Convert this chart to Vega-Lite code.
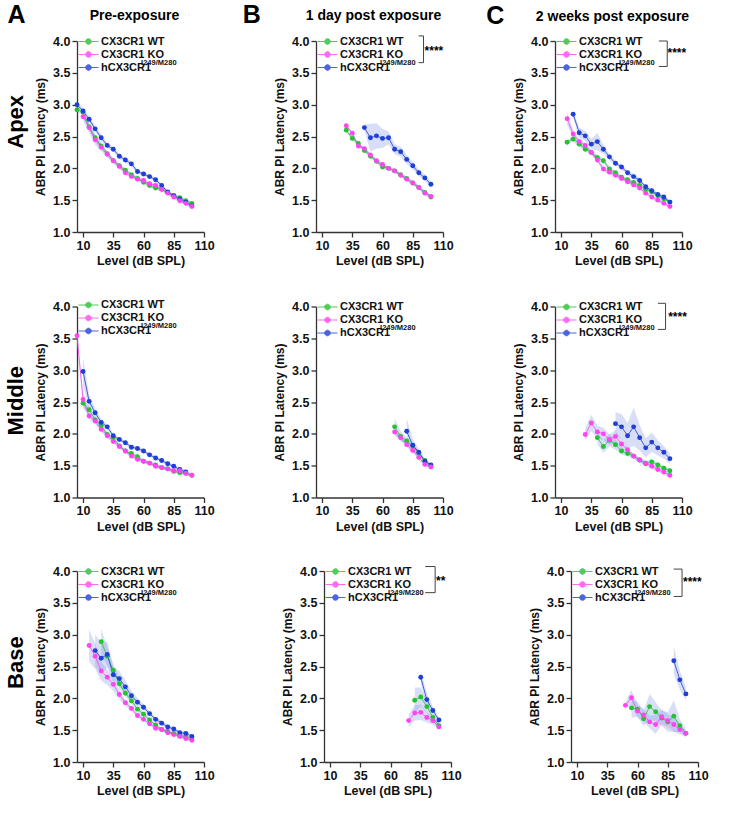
{
"$schema":"https://vega.github.io/schema/vega-lite/v6.json",
"padding":{"left":5,"top":2,"right":5,"bottom":5},
"datasets":{"d":[
{"p":"A1","g":"a","x":5,"y":2.92,"e":0.04},{"p":"A1","g":"a","x":10,"y":2.88,"e":0.04},{"p":"A1","g":"a","x":15,"y":2.65,"e":0.06},{"p":"A1","g":"a","x":20,"y":2.48,"e":0.06},{"p":"A1","g":"a","x":25,"y":2.35,"e":0.05},{"p":"A1","g":"a","x":30,"y":2.23,"e":0.04},{"p":"A1","g":"a","x":35,"y":2.12,"e":0.04},{"p":"A1","g":"a","x":40,"y":2.04,"e":0.04},{"p":"A1","g":"a","x":45,"y":1.97,"e":0.03},{"p":"A1","g":"a","x":50,"y":1.9,"e":0.03},{"p":"A1","g":"a","x":55,"y":1.84,"e":0.03},{"p":"A1","g":"a","x":60,"y":1.78,"e":0.03},{"p":"A1","g":"a","x":65,"y":1.73,"e":0.03},{"p":"A1","g":"a","x":70,"y":1.69,"e":0.03},{"p":"A1","g":"a","x":75,"y":1.67,"e":0.03},{"p":"A1","g":"a","x":80,"y":1.62,"e":0.03},{"p":"A1","g":"a","x":85,"y":1.57,"e":0.03},{"p":"A1","g":"a","x":90,"y":1.54,"e":0.03},{"p":"A1","g":"a","x":95,"y":1.49,"e":0.03},{"p":"A1","g":"a","x":100,"y":1.45,"e":0.03},
{"p":"A1","g":"c","x":5,"y":3.0,"e":0.04},{"p":"A1","g":"c","x":10,"y":2.9,"e":0.05},{"p":"A1","g":"c","x":15,"y":2.77,"e":0.05},{"p":"A1","g":"c","x":20,"y":2.62,"e":0.05},{"p":"A1","g":"c","x":25,"y":2.48,"e":0.05},{"p":"A1","g":"c","x":30,"y":2.36,"e":0.04},{"p":"A1","g":"c","x":35,"y":2.3,"e":0.04},{"p":"A1","g":"c","x":40,"y":2.19,"e":0.04},{"p":"A1","g":"c","x":45,"y":2.13,"e":0.04},{"p":"A1","g":"c","x":50,"y":2.07,"e":0.04},{"p":"A1","g":"c","x":55,"y":1.95,"e":0.03},{"p":"A1","g":"c","x":60,"y":1.91,"e":0.03},{"p":"A1","g":"c","x":65,"y":1.87,"e":0.03},{"p":"A1","g":"c","x":70,"y":1.82,"e":0.03},{"p":"A1","g":"c","x":75,"y":1.73,"e":0.03},{"p":"A1","g":"c","x":80,"y":1.63,"e":0.03},{"p":"A1","g":"c","x":85,"y":1.57,"e":0.03},{"p":"A1","g":"c","x":90,"y":1.52,"e":0.03},{"p":"A1","g":"c","x":95,"y":1.47,"e":0.03},{"p":"A1","g":"c","x":100,"y":1.41,"e":0.03},
{"p":"A1","g":"b","x":10,"y":2.81,"e":0.06},{"p":"A1","g":"b","x":15,"y":2.64,"e":0.08},{"p":"A1","g":"b","x":20,"y":2.45,"e":0.08},{"p":"A1","g":"b","x":25,"y":2.33,"e":0.06},{"p":"A1","g":"b","x":30,"y":2.22,"e":0.05},{"p":"A1","g":"b","x":35,"y":2.12,"e":0.04},{"p":"A1","g":"b","x":40,"y":2.03,"e":0.04},{"p":"A1","g":"b","x":45,"y":1.93,"e":0.03},{"p":"A1","g":"b","x":50,"y":1.87,"e":0.03},{"p":"A1","g":"b","x":55,"y":1.83,"e":0.03},{"p":"A1","g":"b","x":60,"y":1.81,"e":0.03},{"p":"A1","g":"b","x":65,"y":1.76,"e":0.03},{"p":"A1","g":"b","x":70,"y":1.73,"e":0.03},{"p":"A1","g":"b","x":75,"y":1.67,"e":0.03},{"p":"A1","g":"b","x":80,"y":1.61,"e":0.03},{"p":"A1","g":"b","x":85,"y":1.55,"e":0.03},{"p":"A1","g":"b","x":90,"y":1.49,"e":0.03},{"p":"A1","g":"b","x":95,"y":1.45,"e":0.03},{"p":"A1","g":"b","x":100,"y":1.4,"e":0.03},
{"p":"B1","g":"a","x":30,"y":2.6,"e":0.03},{"p":"B1","g":"a","x":35,"y":2.47,"e":0.03},{"p":"B1","g":"a","x":40,"y":2.39,"e":0.03},{"p":"B1","g":"a","x":45,"y":2.28,"e":0.03},{"p":"B1","g":"a","x":50,"y":2.19,"e":0.03},{"p":"B1","g":"a","x":55,"y":2.11,"e":0.03},{"p":"B1","g":"a","x":60,"y":2.02,"e":0.03},{"p":"B1","g":"a","x":65,"y":2.0,"e":0.03},{"p":"B1","g":"a","x":70,"y":1.96,"e":0.03},{"p":"B1","g":"a","x":75,"y":1.9,"e":0.03},{"p":"B1","g":"a","x":80,"y":1.84,"e":0.03},{"p":"B1","g":"a","x":85,"y":1.77,"e":0.03},{"p":"B1","g":"a","x":90,"y":1.7,"e":0.03},{"p":"B1","g":"a","x":95,"y":1.62,"e":0.03},{"p":"B1","g":"a","x":100,"y":1.55,"e":0.03},
{"p":"B1","g":"c","x":45,"y":2.64,"e":0.05},{"p":"B1","g":"c","x":50,"y":2.48,"e":0.22},{"p":"B1","g":"c","x":55,"y":2.51,"e":0.2},{"p":"B1","g":"c","x":60,"y":2.47,"e":0.15},{"p":"B1","g":"c","x":65,"y":2.48,"e":0.1},{"p":"B1","g":"c","x":70,"y":2.3,"e":0.08},{"p":"B1","g":"c","x":75,"y":2.26,"e":0.08},{"p":"B1","g":"c","x":80,"y":2.14,"e":0.07},{"p":"B1","g":"c","x":85,"y":2.04,"e":0.06},{"p":"B1","g":"c","x":90,"y":1.93,"e":0.05},{"p":"B1","g":"c","x":95,"y":1.85,"e":0.05},{"p":"B1","g":"c","x":100,"y":1.75,"e":0.05},
{"p":"B1","g":"b","x":30,"y":2.67,"e":0.03},{"p":"B1","g":"b","x":35,"y":2.55,"e":0.03},{"p":"B1","g":"b","x":40,"y":2.35,"e":0.03},{"p":"B1","g":"b","x":45,"y":2.31,"e":0.03},{"p":"B1","g":"b","x":50,"y":2.21,"e":0.03},{"p":"B1","g":"b","x":55,"y":2.12,"e":0.03},{"p":"B1","g":"b","x":60,"y":2.06,"e":0.03},{"p":"B1","g":"b","x":65,"y":2.0,"e":0.03},{"p":"B1","g":"b","x":70,"y":1.96,"e":0.03},{"p":"B1","g":"b","x":75,"y":1.89,"e":0.03},{"p":"B1","g":"b","x":80,"y":1.83,"e":0.03},{"p":"B1","g":"b","x":85,"y":1.77,"e":0.03},{"p":"B1","g":"b","x":90,"y":1.7,"e":0.03},{"p":"B1","g":"b","x":95,"y":1.61,"e":0.03},{"p":"B1","g":"b","x":100,"y":1.56,"e":0.03},
{"p":"C1","g":"a","x":15,"y":2.41,"e":0.04},{"p":"C1","g":"a","x":20,"y":2.46,"e":0.04},{"p":"C1","g":"a","x":25,"y":2.38,"e":0.04},{"p":"C1","g":"a","x":30,"y":2.3,"e":0.04},{"p":"C1","g":"a","x":35,"y":2.25,"e":0.04},{"p":"C1","g":"a","x":40,"y":2.17,"e":0.04},{"p":"C1","g":"a","x":45,"y":2.12,"e":0.04},{"p":"C1","g":"a","x":50,"y":1.99,"e":0.04},{"p":"C1","g":"a","x":55,"y":1.93,"e":0.03},{"p":"C1","g":"a","x":60,"y":1.86,"e":0.03},{"p":"C1","g":"a","x":65,"y":1.82,"e":0.03},{"p":"C1","g":"a","x":70,"y":1.78,"e":0.03},{"p":"C1","g":"a","x":75,"y":1.73,"e":0.03},{"p":"C1","g":"a","x":80,"y":1.67,"e":0.03},{"p":"C1","g":"a","x":85,"y":1.63,"e":0.03},{"p":"C1","g":"a","x":90,"y":1.57,"e":0.03},{"p":"C1","g":"a","x":95,"y":1.52,"e":0.03},{"p":"C1","g":"a","x":100,"y":1.47,"e":0.03},
{"p":"C1","g":"c","x":20,"y":2.85,"e":0.05},{"p":"C1","g":"c","x":25,"y":2.56,"e":0.08},{"p":"C1","g":"c","x":30,"y":2.51,"e":0.08},{"p":"C1","g":"c","x":35,"y":2.38,"e":0.08},{"p":"C1","g":"c","x":40,"y":2.42,"e":0.14},{"p":"C1","g":"c","x":45,"y":2.3,"e":0.07},{"p":"C1","g":"c","x":50,"y":2.18,"e":0.05},{"p":"C1","g":"c","x":55,"y":2.08,"e":0.04},{"p":"C1","g":"c","x":60,"y":2.02,"e":0.04},{"p":"C1","g":"c","x":65,"y":1.93,"e":0.04},{"p":"C1","g":"c","x":70,"y":1.87,"e":0.04},{"p":"C1","g":"c","x":75,"y":1.81,"e":0.04},{"p":"C1","g":"c","x":80,"y":1.71,"e":0.03},{"p":"C1","g":"c","x":85,"y":1.65,"e":0.03},{"p":"C1","g":"c","x":90,"y":1.59,"e":0.03},{"p":"C1","g":"c","x":95,"y":1.55,"e":0.03},{"p":"C1","g":"c","x":100,"y":1.47,"e":0.03},
{"p":"C1","g":"b","x":15,"y":2.78,"e":0.1},{"p":"C1","g":"b","x":20,"y":2.54,"e":0.06},{"p":"C1","g":"b","x":25,"y":2.42,"e":0.05},{"p":"C1","g":"b","x":30,"y":2.36,"e":0.04},{"p":"C1","g":"b","x":35,"y":2.25,"e":0.04},{"p":"C1","g":"b","x":40,"y":2.13,"e":0.04},{"p":"C1","g":"b","x":45,"y":1.99,"e":0.04},{"p":"C1","g":"b","x":50,"y":1.94,"e":0.04},{"p":"C1","g":"b","x":55,"y":1.89,"e":0.03},{"p":"C1","g":"b","x":60,"y":1.84,"e":0.03},{"p":"C1","g":"b","x":65,"y":1.79,"e":0.03},{"p":"C1","g":"b","x":70,"y":1.74,"e":0.03},{"p":"C1","g":"b","x":75,"y":1.69,"e":0.03},{"p":"C1","g":"b","x":80,"y":1.61,"e":0.03},{"p":"C1","g":"b","x":85,"y":1.55,"e":0.03},{"p":"C1","g":"b","x":90,"y":1.5,"e":0.03},{"p":"C1","g":"b","x":95,"y":1.45,"e":0.03},{"p":"C1","g":"b","x":100,"y":1.4,"e":0.03},
{"p":"A2","g":"a","x":10,"y":2.48,"e":0.08},{"p":"A2","g":"a","x":15,"y":2.38,"e":0.06},{"p":"A2","g":"a","x":20,"y":2.22,"e":0.05},{"p":"A2","g":"a","x":25,"y":2.13,"e":0.04},{"p":"A2","g":"a","x":30,"y":1.99,"e":0.04},{"p":"A2","g":"a","x":35,"y":1.94,"e":0.03},{"p":"A2","g":"a","x":40,"y":1.81,"e":0.03},{"p":"A2","g":"a","x":45,"y":1.73,"e":0.03},{"p":"A2","g":"a","x":50,"y":1.69,"e":0.03},{"p":"A2","g":"a","x":55,"y":1.64,"e":0.03},{"p":"A2","g":"a","x":60,"y":1.57,"e":0.03},{"p":"A2","g":"a","x":65,"y":1.54,"e":0.03},{"p":"A2","g":"a","x":70,"y":1.51,"e":0.03},{"p":"A2","g":"a","x":75,"y":1.47,"e":0.03},{"p":"A2","g":"a","x":80,"y":1.45,"e":0.03},{"p":"A2","g":"a","x":85,"y":1.41,"e":0.03},{"p":"A2","g":"a","x":90,"y":1.39,"e":0.03},{"p":"A2","g":"a","x":95,"y":1.38,"e":0.03},{"p":"A2","g":"a","x":100,"y":1.35,"e":0.03},
{"p":"A2","g":"c","x":10,"y":2.98,"e":0.22},{"p":"A2","g":"c","x":15,"y":2.51,"e":0.1},{"p":"A2","g":"c","x":20,"y":2.33,"e":0.07},{"p":"A2","g":"c","x":25,"y":2.18,"e":0.06},{"p":"A2","g":"c","x":30,"y":2.11,"e":0.04},{"p":"A2","g":"c","x":35,"y":1.97,"e":0.03},{"p":"A2","g":"c","x":40,"y":1.91,"e":0.03},{"p":"A2","g":"c","x":45,"y":1.86,"e":0.03},{"p":"A2","g":"c","x":50,"y":1.79,"e":0.03},{"p":"A2","g":"c","x":55,"y":1.77,"e":0.03},{"p":"A2","g":"c","x":60,"y":1.73,"e":0.03},{"p":"A2","g":"c","x":65,"y":1.67,"e":0.03},{"p":"A2","g":"c","x":70,"y":1.62,"e":0.03},{"p":"A2","g":"c","x":75,"y":1.58,"e":0.03},{"p":"A2","g":"c","x":80,"y":1.53,"e":0.03},{"p":"A2","g":"c","x":85,"y":1.49,"e":0.03},{"p":"A2","g":"c","x":90,"y":1.44,"e":0.03},{"p":"A2","g":"c","x":95,"y":1.4,"e":0.03},
{"p":"A2","g":"b","x":5,"y":3.54,"e":0.05},{"p":"A2","g":"b","x":10,"y":2.54,"e":0.1},{"p":"A2","g":"b","x":15,"y":2.28,"e":0.06},{"p":"A2","g":"b","x":20,"y":2.2,"e":0.05},{"p":"A2","g":"b","x":25,"y":2.07,"e":0.04},{"p":"A2","g":"b","x":30,"y":1.97,"e":0.04},{"p":"A2","g":"b","x":35,"y":1.88,"e":0.03},{"p":"A2","g":"b","x":40,"y":1.8,"e":0.03},{"p":"A2","g":"b","x":45,"y":1.73,"e":0.03},{"p":"A2","g":"b","x":50,"y":1.65,"e":0.03},{"p":"A2","g":"b","x":55,"y":1.6,"e":0.03},{"p":"A2","g":"b","x":60,"y":1.57,"e":0.03},{"p":"A2","g":"b","x":65,"y":1.54,"e":0.03},{"p":"A2","g":"b","x":70,"y":1.49,"e":0.03},{"p":"A2","g":"b","x":75,"y":1.47,"e":0.03},{"p":"A2","g":"b","x":80,"y":1.45,"e":0.03},{"p":"A2","g":"b","x":85,"y":1.42,"e":0.03},{"p":"A2","g":"b","x":90,"y":1.42,"e":0.03},{"p":"A2","g":"b","x":95,"y":1.38,"e":0.03},{"p":"A2","g":"b","x":100,"y":1.35,"e":0.03},
{"p":"B2","g":"a","x":70,"y":2.11,"e":0.13},{"p":"B2","g":"a","x":75,"y":1.96,"e":0.08},{"p":"B2","g":"a","x":80,"y":1.89,"e":0.05},{"p":"B2","g":"a","x":85,"y":1.81,"e":0.04},{"p":"B2","g":"a","x":90,"y":1.7,"e":0.04},{"p":"B2","g":"a","x":95,"y":1.58,"e":0.03},{"p":"B2","g":"a","x":100,"y":1.5,"e":0.03},
{"p":"B2","g":"c","x":80,"y":2.04,"e":0.2},{"p":"B2","g":"c","x":85,"y":1.82,"e":0.1},{"p":"B2","g":"c","x":90,"y":1.71,"e":0.05},{"p":"B2","g":"c","x":95,"y":1.57,"e":0.04},{"p":"B2","g":"c","x":100,"y":1.51,"e":0.03},
{"p":"B2","g":"b","x":70,"y":2.03,"e":0.04},{"p":"B2","g":"b","x":75,"y":1.94,"e":0.04},{"p":"B2","g":"b","x":80,"y":1.83,"e":0.04},{"p":"B2","g":"b","x":85,"y":1.74,"e":0.04},{"p":"B2","g":"b","x":90,"y":1.63,"e":0.04},{"p":"B2","g":"b","x":95,"y":1.52,"e":0.03},{"p":"B2","g":"b","x":100,"y":1.48,"e":0.03},
{"p":"C2","g":"a","x":40,"y":1.94,"e":0.1},{"p":"C2","g":"a","x":45,"y":1.8,"e":0.1},{"p":"C2","g":"a","x":50,"y":1.9,"e":0.1},{"p":"C2","g":"a","x":55,"y":1.83,"e":0.08},{"p":"C2","g":"a","x":60,"y":1.73,"e":0.06},{"p":"C2","g":"a","x":65,"y":1.69,"e":0.04},{"p":"C2","g":"a","x":70,"y":1.65,"e":0.04},{"p":"C2","g":"a","x":75,"y":1.59,"e":0.04},{"p":"C2","g":"a","x":80,"y":1.53,"e":0.04},{"p":"C2","g":"a","x":85,"y":1.56,"e":0.04},{"p":"C2","g":"a","x":90,"y":1.51,"e":0.04},{"p":"C2","g":"a","x":95,"y":1.46,"e":0.04},{"p":"C2","g":"a","x":100,"y":1.42,"e":0.04},
{"p":"C2","g":"c","x":55,"y":2.16,"e":0.18},{"p":"C2","g":"c","x":60,"y":2.11,"e":0.2},{"p":"C2","g":"c","x":65,"y":1.97,"e":0.2},{"p":"C2","g":"c","x":70,"y":2.11,"e":0.3},{"p":"C2","g":"c","x":75,"y":1.94,"e":0.2},{"p":"C2","g":"c","x":80,"y":1.78,"e":0.15},{"p":"C2","g":"c","x":85,"y":1.87,"e":0.15},{"p":"C2","g":"c","x":90,"y":1.78,"e":0.12},{"p":"C2","g":"c","x":95,"y":1.71,"e":0.1},{"p":"C2","g":"c","x":100,"y":1.61,"e":0.08},
{"p":"C2","g":"b","x":30,"y":1.99,"e":0.1},{"p":"C2","g":"b","x":35,"y":2.17,"e":0.13},{"p":"C2","g":"b","x":40,"y":2.03,"e":0.1},{"p":"C2","g":"b","x":45,"y":2.0,"e":0.1},{"p":"C2","g":"b","x":50,"y":1.91,"e":0.08},{"p":"C2","g":"b","x":55,"y":1.96,"e":0.1},{"p":"C2","g":"b","x":60,"y":1.84,"e":0.07},{"p":"C2","g":"b","x":65,"y":1.75,"e":0.04},{"p":"C2","g":"b","x":70,"y":1.65,"e":0.04},{"p":"C2","g":"b","x":75,"y":1.59,"e":0.04},{"p":"C2","g":"b","x":80,"y":1.54,"e":0.04},{"p":"C2","g":"b","x":85,"y":1.49,"e":0.04},{"p":"C2","g":"b","x":90,"y":1.44,"e":0.04},{"p":"C2","g":"b","x":95,"y":1.4,"e":0.04},{"p":"C2","g":"b","x":100,"y":1.35,"e":0.04},
{"p":"A3","g":"a","x":25,"y":2.89,"e":0.2},{"p":"A3","g":"a","x":30,"y":2.66,"e":0.15},{"p":"A3","g":"a","x":35,"y":2.44,"e":0.1},{"p":"A3","g":"a","x":40,"y":2.23,"e":0.08},{"p":"A3","g":"a","x":45,"y":2.08,"e":0.05},{"p":"A3","g":"a","x":50,"y":1.96,"e":0.04},{"p":"A3","g":"a","x":55,"y":1.83,"e":0.04},{"p":"A3","g":"a","x":60,"y":1.75,"e":0.04},{"p":"A3","g":"a","x":65,"y":1.66,"e":0.04},{"p":"A3","g":"a","x":70,"y":1.58,"e":0.03},{"p":"A3","g":"a","x":75,"y":1.51,"e":0.03},{"p":"A3","g":"a","x":80,"y":1.48,"e":0.03},{"p":"A3","g":"a","x":85,"y":1.45,"e":0.03},{"p":"A3","g":"a","x":90,"y":1.42,"e":0.03},{"p":"A3","g":"a","x":95,"y":1.4,"e":0.03},{"p":"A3","g":"a","x":100,"y":1.36,"e":0.03},
{"p":"A3","g":"c","x":20,"y":2.75,"e":0.25},{"p":"A3","g":"c","x":25,"y":2.63,"e":0.25},{"p":"A3","g":"c","x":30,"y":2.69,"e":0.2},{"p":"A3","g":"c","x":35,"y":2.37,"e":0.12},{"p":"A3","g":"c","x":40,"y":2.31,"e":0.12},{"p":"A3","g":"c","x":45,"y":2.18,"e":0.1},{"p":"A3","g":"c","x":50,"y":2.04,"e":0.08},{"p":"A3","g":"c","x":55,"y":1.94,"e":0.06},{"p":"A3","g":"c","x":60,"y":1.86,"e":0.05},{"p":"A3","g":"c","x":65,"y":1.76,"e":0.04},{"p":"A3","g":"c","x":70,"y":1.67,"e":0.04},{"p":"A3","g":"c","x":75,"y":1.61,"e":0.04},{"p":"A3","g":"c","x":80,"y":1.55,"e":0.03},{"p":"A3","g":"c","x":85,"y":1.52,"e":0.03},{"p":"A3","g":"c","x":90,"y":1.46,"e":0.03},{"p":"A3","g":"c","x":95,"y":1.45,"e":0.03},{"p":"A3","g":"c","x":100,"y":1.4,"e":0.03},
{"p":"A3","g":"b","x":15,"y":2.83,"e":0.25},{"p":"A3","g":"b","x":20,"y":2.66,"e":0.2},{"p":"A3","g":"b","x":25,"y":2.43,"e":0.15},{"p":"A3","g":"b","x":30,"y":2.33,"e":0.12},{"p":"A3","g":"b","x":35,"y":2.22,"e":0.1},{"p":"A3","g":"b","x":40,"y":2.06,"e":0.08},{"p":"A3","g":"b","x":45,"y":1.93,"e":0.05},{"p":"A3","g":"b","x":50,"y":1.84,"e":0.04},{"p":"A3","g":"b","x":55,"y":1.73,"e":0.04},{"p":"A3","g":"b","x":60,"y":1.67,"e":0.03},{"p":"A3","g":"b","x":65,"y":1.6,"e":0.03},{"p":"A3","g":"b","x":70,"y":1.53,"e":0.03},{"p":"A3","g":"b","x":75,"y":1.51,"e":0.03},{"p":"A3","g":"b","x":80,"y":1.46,"e":0.03},{"p":"A3","g":"b","x":85,"y":1.43,"e":0.03},{"p":"A3","g":"b","x":90,"y":1.4,"e":0.03},{"p":"A3","g":"b","x":95,"y":1.37,"e":0.03},{"p":"A3","g":"b","x":100,"y":1.34,"e":0.03},
{"p":"B3","g":"a","x":80,"y":1.97,"e":0.2},{"p":"B3","g":"a","x":85,"y":2.02,"e":0.15},{"p":"B3","g":"a","x":90,"y":1.87,"e":0.1},{"p":"B3","g":"a","x":95,"y":1.7,"e":0.06},{"p":"B3","g":"a","x":100,"y":1.57,"e":0.04},
{"p":"B3","g":"c","x":85,"y":2.33,"e":0.1},{"p":"B3","g":"c","x":90,"y":1.98,"e":0.1},{"p":"B3","g":"c","x":95,"y":1.81,"e":0.06},{"p":"B3","g":"c","x":100,"y":1.66,"e":0.04},
{"p":"B3","g":"b","x":75,"y":1.65,"e":0.1},{"p":"B3","g":"b","x":80,"y":1.77,"e":0.12},{"p":"B3","g":"b","x":85,"y":1.78,"e":0.12},{"p":"B3","g":"b","x":90,"y":1.7,"e":0.08},{"p":"B3","g":"b","x":95,"y":1.65,"e":0.06},{"p":"B3","g":"b","x":100,"y":1.55,"e":0.04},
{"p":"C3","g":"a","x":55,"y":1.85,"e":0.15},{"p":"C3","g":"a","x":60,"y":1.83,"e":0.12},{"p":"C3","g":"a","x":65,"y":1.68,"e":0.12},{"p":"C3","g":"a","x":70,"y":1.87,"e":0.2},{"p":"C3","g":"a","x":75,"y":1.79,"e":0.15},{"p":"C3","g":"a","x":80,"y":1.69,"e":0.12},{"p":"C3","g":"a","x":85,"y":1.63,"e":0.15},{"p":"C3","g":"a","x":90,"y":1.72,"e":0.25},{"p":"C3","g":"a","x":95,"y":1.57,"e":0.1},{"p":"C3","g":"a","x":100,"y":1.45,"e":0.06},
{"p":"C3","g":"c","x":90,"y":2.59,"e":0.22},{"p":"C3","g":"c","x":95,"y":2.29,"e":0.15},{"p":"C3","g":"c","x":100,"y":2.07,"e":0.1},
{"p":"C3","g":"b","x":50,"y":1.89,"e":0.05},{"p":"C3","g":"b","x":55,"y":2.01,"e":0.12},{"p":"C3","g":"b","x":60,"y":1.8,"e":0.1},{"p":"C3","g":"b","x":65,"y":1.74,"e":0.1},{"p":"C3","g":"b","x":70,"y":1.63,"e":0.1},{"p":"C3","g":"b","x":75,"y":1.59,"e":0.15},{"p":"C3","g":"b","x":80,"y":1.71,"e":0.12},{"p":"C3","g":"b","x":85,"y":1.65,"e":0.1},{"p":"C3","g":"b","x":90,"y":1.59,"e":0.12},{"p":"C3","g":"b","x":95,"y":1.51,"e":0.08},{"p":"C3","g":"b","x":100,"y":1.45,"e":0.05}
]},
"spacing":32.5,
"resolve":{"scale":{"color":"independent","x":"independent","y":"independent"}},
"vconcat":[
{"bounds":"flush","spacing":112,"resolve":{"scale":{"color":"independent","x":"independent","y":"independent"}},
"hconcat":[
{"width":127,"height":191,
"title":{"text":"Pre-exposure","fontSize":14,"fontWeight":"bold","anchor":"middle","frame":"group","offset":-20,"dx":-6},
"layer":[
{"data":{"name":"d"},"transform":[{"filter":{"field":"p","equal":"A1"}}],"mark":{"type":"errorband","band":{"color":"#7f93e0","opacity":0.3}},"encoding":{"x":{"field":"x","type":"quantitative","scale":{"domain":[5,110],"nice":false,"zero":false},"axis":{"values":[10,35,60,85,110],"title":"Level (dB SPL)","labelOverlap":false}},"y":{"field":"y","type":"quantitative","scale":{"domain":[1,4],"nice":false,"zero":false},"axis":{"values":[1,1.5,2,2.5,3,3.5,4],"format":".1f","title":"ABR PI Latency (ms)","labelOverlap":false}},"yError":{"field":"e"},"detail":{"field":"g"}}},
{"data":{"name":"d"},"transform":[{"filter":{"field":"p","equal":"A1"}}],"mark":{"type":"line","strokeWidth":1,"opacity":0.8},"encoding":{"x":{"field":"x","type":"quantitative","axis":{"values":[10,35,60,85,110],"title":"Level (dB SPL)","labelOverlap":false}},"y":{"field":"y","type":"quantitative","axis":{"values":[1,1.5,2,2.5,3,3.5,4],"format":".1f","title":"ABR PI Latency (ms)","labelOverlap":false}},"color":{"field":"g","type":"nominal"}}},
{"data":{"name":"d"},"transform":[{"filter":{"field":"p","equal":"A1"}}],"mark":{"type":"point","filled":true,"size":24,"opacity":1},"encoding":{"x":{"field":"x","type":"quantitative","axis":{"values":[10,35,60,85,110],"title":"Level (dB SPL)","labelOverlap":false}},"y":{"field":"y","type":"quantitative","axis":{"values":[1,1.5,2,2.5,3,3.5,4],"format":".1f","title":"ABR PI Latency (ms)","labelOverlap":false}},"color":{"field":"g","type":"nominal","legend":{"title":null,"orient":"none","legendX":6,"legendY":-5,"labelFontSize":11,"labelExpr":"datum.label == 'a' ? 'CX3CR1 WT' : datum.label == 'b' ? 'CX3CR1 KO' : 'hCX3CR1'"}}}},
{"data":{"values":[{"t":"I249/M280"}]},"mark":{"type":"text","fontSize":7.5,"fontWeight":"bold","align":"left","baseline":"middle","color":"#111"},"encoding":{"x":{"datum":58,"type":"quantitative","axis":{"values":[10,35,60,85,110],"title":"Level (dB SPL)","labelOverlap":false}},"y":{"datum":3.66,"type":"quantitative","axis":{"values":[1,1.5,2,2.5,3,3.5,4],"format":".1f","title":"ABR PI Latency (ms)","labelOverlap":false}},"text":{"field":"t"}}},
{"data":{"values":[{"t":"A"}]},"mark":{"type":"text","fontSize":25,"fontWeight":"bold","align":"center","baseline":"middle"},"encoding":{"x":{"datum":-45,"type":"quantitative","axis":{"values":[10,35,60,85,110],"title":"Level (dB SPL)","labelOverlap":false}},"y":{"datum":4.41,"type":"quantitative","axis":{"values":[1,1.5,2,2.5,3,3.5,4],"format":".1f","title":"ABR PI Latency (ms)","labelOverlap":false}},"text":{"field":"t"}}},
{"data":{"values":[{"t":"Apex"}]},"mark":{"type":"text","angle":270,"fontSize":22,"fontWeight":"bold","align":"center","baseline":"middle"},"encoding":{"x":{"datum":-45.4,"type":"quantitative","axis":{"values":[10,35,60,85,110],"title":"Level (dB SPL)","labelOverlap":false}},"y":{"datum":2.73,"type":"quantitative","axis":{"values":[1,1.5,2,2.5,3,3.5,4],"format":".1f","title":"ABR PI Latency (ms)","labelOverlap":false}},"text":{"field":"t"}}}
]},
{"width":127,"height":191,
"title":{"text":"1 day post exposure","fontSize":14,"fontWeight":"bold","anchor":"middle","frame":"group","offset":-20,"dx":-6},
"layer":[
{"data":{"name":"d"},"transform":[{"filter":{"field":"p","equal":"B1"}}],"mark":{"type":"errorband","band":{"color":"#7f93e0","opacity":0.3}},"encoding":{"x":{"field":"x","type":"quantitative","scale":{"domain":[5,110],"nice":false,"zero":false},"axis":{"values":[10,35,60,85,110],"title":"Level (dB SPL)","labelOverlap":false}},"y":{"field":"y","type":"quantitative","scale":{"domain":[1,4],"nice":false,"zero":false},"axis":{"values":[1,1.5,2,2.5,3,3.5,4],"format":".1f","title":"ABR PI Latency (ms)","labelOverlap":false}},"yError":{"field":"e"},"detail":{"field":"g"}}},
{"data":{"name":"d"},"transform":[{"filter":{"field":"p","equal":"B1"}}],"mark":{"type":"line","strokeWidth":1,"opacity":0.8},"encoding":{"x":{"field":"x","type":"quantitative","axis":{"values":[10,35,60,85,110],"title":"Level (dB SPL)","labelOverlap":false}},"y":{"field":"y","type":"quantitative","axis":{"values":[1,1.5,2,2.5,3,3.5,4],"format":".1f","title":"ABR PI Latency (ms)","labelOverlap":false}},"color":{"field":"g","type":"nominal"}}},
{"data":{"name":"d"},"transform":[{"filter":{"field":"p","equal":"B1"}}],"mark":{"type":"point","filled":true,"size":24,"opacity":1},"encoding":{"x":{"field":"x","type":"quantitative","axis":{"values":[10,35,60,85,110],"title":"Level (dB SPL)","labelOverlap":false}},"y":{"field":"y","type":"quantitative","axis":{"values":[1,1.5,2,2.5,3,3.5,4],"format":".1f","title":"ABR PI Latency (ms)","labelOverlap":false}},"color":{"field":"g","type":"nominal","legend":{"title":null,"orient":"none","legendX":6,"legendY":-5,"labelFontSize":11,"labelExpr":"datum.label == 'a' ? 'CX3CR1 WT' : datum.label == 'b' ? 'CX3CR1 KO' : 'hCX3CR1'"}}}},
{"data":{"values":[{"t":"I249/M280"}]},"mark":{"type":"text","fontSize":7.5,"fontWeight":"bold","align":"left","baseline":"middle","color":"#111"},"encoding":{"x":{"datum":58,"type":"quantitative","axis":{"values":[10,35,60,85,110],"title":"Level (dB SPL)","labelOverlap":false}},"y":{"datum":3.66,"type":"quantitative","axis":{"values":[1,1.5,2,2.5,3,3.5,4],"format":".1f","title":"ABR PI Latency (ms)","labelOverlap":false}},"text":{"field":"t"}}},
{"data":{"values":[{"t":"B"}]},"mark":{"type":"text","fontSize":25,"fontWeight":"bold","align":"center","baseline":"middle"},"encoding":{"x":{"datum":-48,"type":"quantitative","axis":{"values":[10,35,60,85,110],"title":"Level (dB SPL)","labelOverlap":false}},"y":{"datum":4.41,"type":"quantitative","axis":{"values":[1,1.5,2,2.5,3,3.5,4],"format":".1f","title":"ABR PI Latency (ms)","labelOverlap":false}},"text":{"field":"t"}}},
{"data":{"values":[{}]},"mark":{"type":"rule","color":"#444","strokeWidth":1},"encoding":{"x":{"datum":89.8,"type":"quantitative","axis":{"values":[10,35,60,85,110],"title":"Level (dB SPL)","labelOverlap":false}},"x2":{"datum":93.9},"y":{"datum":4.08,"type":"quantitative","axis":{"values":[1,1.5,2,2.5,3,3.5,4],"format":".1f","title":"ABR PI Latency (ms)","labelOverlap":false}}}},
{"data":{"values":[{}]},"mark":{"type":"rule","color":"#444","strokeWidth":1},"encoding":{"x":{"datum":93.9,"type":"quantitative","axis":{"values":[10,35,60,85,110],"title":"Level (dB SPL)","labelOverlap":false}},"y":{"datum":4.08,"type":"quantitative","axis":{"values":[1,1.5,2,2.5,3,3.5,4],"format":".1f","title":"ABR PI Latency (ms)","labelOverlap":false}},"y2":{"datum":3.66}}},
{"data":{"values":[{}]},"mark":{"type":"rule","color":"#444","strokeWidth":1},"encoding":{"x":{"datum":89.8,"type":"quantitative","axis":{"values":[10,35,60,85,110],"title":"Level (dB SPL)","labelOverlap":false}},"x2":{"datum":93.9},"y":{"datum":3.66,"type":"quantitative","axis":{"values":[1,1.5,2,2.5,3,3.5,4],"format":".1f","title":"ABR PI Latency (ms)","labelOverlap":false}}}},
{"data":{"values":[{"t":"****"}]},"mark":{"type":"text","fontSize":12,"fontWeight":"bold","align":"center","baseline":"middle"},"encoding":{"x":{"datum":102.5,"type":"quantitative","axis":{"values":[10,35,60,85,110],"title":"Level (dB SPL)","labelOverlap":false}},"y":{"datum":3.84,"type":"quantitative","axis":{"values":[1,1.5,2,2.5,3,3.5,4],"format":".1f","title":"ABR PI Latency (ms)","labelOverlap":false}},"text":{"field":"t"}}}
]},
{"width":127,"height":191,
"title":{"text":"2 weeks post exposure","fontSize":14,"fontWeight":"bold","anchor":"middle","frame":"group","offset":-20,"dx":-6},
"layer":[
{"data":{"name":"d"},"transform":[{"filter":{"field":"p","equal":"C1"}}],"mark":{"type":"errorband","band":{"color":"#7f93e0","opacity":0.3}},"encoding":{"x":{"field":"x","type":"quantitative","scale":{"domain":[5,110],"nice":false,"zero":false},"axis":{"values":[10,35,60,85,110],"title":"Level (dB SPL)","labelOverlap":false}},"y":{"field":"y","type":"quantitative","scale":{"domain":[1,4],"nice":false,"zero":false},"axis":{"values":[1,1.5,2,2.5,3,3.5,4],"format":".1f","title":"ABR PI Latency (ms)","labelOverlap":false}},"yError":{"field":"e"},"detail":{"field":"g"}}},
{"data":{"name":"d"},"transform":[{"filter":{"field":"p","equal":"C1"}}],"mark":{"type":"line","strokeWidth":1,"opacity":0.8},"encoding":{"x":{"field":"x","type":"quantitative","axis":{"values":[10,35,60,85,110],"title":"Level (dB SPL)","labelOverlap":false}},"y":{"field":"y","type":"quantitative","axis":{"values":[1,1.5,2,2.5,3,3.5,4],"format":".1f","title":"ABR PI Latency (ms)","labelOverlap":false}},"color":{"field":"g","type":"nominal"}}},
{"data":{"name":"d"},"transform":[{"filter":{"field":"p","equal":"C1"}}],"mark":{"type":"point","filled":true,"size":24,"opacity":1},"encoding":{"x":{"field":"x","type":"quantitative","axis":{"values":[10,35,60,85,110],"title":"Level (dB SPL)","labelOverlap":false}},"y":{"field":"y","type":"quantitative","axis":{"values":[1,1.5,2,2.5,3,3.5,4],"format":".1f","title":"ABR PI Latency (ms)","labelOverlap":false}},"color":{"field":"g","type":"nominal","legend":{"title":null,"orient":"none","legendX":6,"legendY":-5,"labelFontSize":11,"labelExpr":"datum.label == 'a' ? 'CX3CR1 WT' : datum.label == 'b' ? 'CX3CR1 KO' : 'hCX3CR1'"}}}},
{"data":{"values":[{"t":"I249/M280"}]},"mark":{"type":"text","fontSize":7.5,"fontWeight":"bold","align":"left","baseline":"middle","color":"#111"},"encoding":{"x":{"datum":58,"type":"quantitative","axis":{"values":[10,35,60,85,110],"title":"Level (dB SPL)","labelOverlap":false}},"y":{"datum":3.66,"type":"quantitative","axis":{"values":[1,1.5,2,2.5,3,3.5,4],"format":".1f","title":"ABR PI Latency (ms)","labelOverlap":false}},"text":{"field":"t"}}},
{"data":{"values":[{"t":"C"}]},"mark":{"type":"text","fontSize":25,"fontWeight":"bold","align":"center","baseline":"middle"},"encoding":{"x":{"datum":-44.3,"type":"quantitative","axis":{"values":[10,35,60,85,110],"title":"Level (dB SPL)","labelOverlap":false}},"y":{"datum":4.4,"type":"quantitative","axis":{"values":[1,1.5,2,2.5,3,3.5,4],"format":".1f","title":"ABR PI Latency (ms)","labelOverlap":false}},"text":{"field":"t"}}},
{"data":{"values":[{}]},"mark":{"type":"rule","color":"#444","strokeWidth":1},"encoding":{"x":{"datum":90.9,"type":"quantitative","axis":{"values":[10,35,60,85,110],"title":"Level (dB SPL)","labelOverlap":false}},"x2":{"datum":97.8},"y":{"datum":4.0,"type":"quantitative","axis":{"values":[1,1.5,2,2.5,3,3.5,4],"format":".1f","title":"ABR PI Latency (ms)","labelOverlap":false}}}},
{"data":{"values":[{}]},"mark":{"type":"rule","color":"#444","strokeWidth":1},"encoding":{"x":{"datum":97.8,"type":"quantitative","axis":{"values":[10,35,60,85,110],"title":"Level (dB SPL)","labelOverlap":false}},"y":{"datum":4.0,"type":"quantitative","axis":{"values":[1,1.5,2,2.5,3,3.5,4],"format":".1f","title":"ABR PI Latency (ms)","labelOverlap":false}},"y2":{"datum":3.6}}},
{"data":{"values":[{}]},"mark":{"type":"rule","color":"#444","strokeWidth":1},"encoding":{"x":{"datum":90.9,"type":"quantitative","axis":{"values":[10,35,60,85,110],"title":"Level (dB SPL)","labelOverlap":false}},"x2":{"datum":97.8},"y":{"datum":3.6,"type":"quantitative","axis":{"values":[1,1.5,2,2.5,3,3.5,4],"format":".1f","title":"ABR PI Latency (ms)","labelOverlap":false}}}},
{"data":{"values":[{"t":"****"}]},"mark":{"type":"text","fontSize":12,"fontWeight":"bold","align":"center","baseline":"middle"},"encoding":{"x":{"datum":105.7,"type":"quantitative","axis":{"values":[10,35,60,85,110],"title":"Level (dB SPL)","labelOverlap":false}},"y":{"datum":3.81,"type":"quantitative","axis":{"values":[1,1.5,2,2.5,3,3.5,4],"format":".1f","title":"ABR PI Latency (ms)","labelOverlap":false}},"text":{"field":"t"}}}
]}
]},
{"bounds":"flush","spacing":112,"resolve":{"scale":{"color":"independent","x":"independent","y":"independent"}},
"hconcat":[
{"width":127,"height":191,
"layer":[
{"data":{"name":"d"},"transform":[{"filter":{"field":"p","equal":"A2"}}],"mark":{"type":"errorband","band":{"color":"#7f93e0","opacity":0.3}},"encoding":{"x":{"field":"x","type":"quantitative","scale":{"domain":[5,110],"nice":false,"zero":false},"axis":{"values":[10,35,60,85,110],"title":"Level (dB SPL)","labelOverlap":false}},"y":{"field":"y","type":"quantitative","scale":{"domain":[1,4],"nice":false,"zero":false},"axis":{"values":[1,1.5,2,2.5,3,3.5,4],"format":".1f","title":"ABR PI Latency (ms)","labelOverlap":false}},"yError":{"field":"e"},"detail":{"field":"g"}}},
{"data":{"name":"d"},"transform":[{"filter":{"field":"p","equal":"A2"}}],"mark":{"type":"line","strokeWidth":1,"opacity":0.8},"encoding":{"x":{"field":"x","type":"quantitative","axis":{"values":[10,35,60,85,110],"title":"Level (dB SPL)","labelOverlap":false}},"y":{"field":"y","type":"quantitative","axis":{"values":[1,1.5,2,2.5,3,3.5,4],"format":".1f","title":"ABR PI Latency (ms)","labelOverlap":false}},"color":{"field":"g","type":"nominal"}}},
{"data":{"name":"d"},"transform":[{"filter":{"field":"p","equal":"A2"}}],"mark":{"type":"point","filled":true,"size":24,"opacity":1},"encoding":{"x":{"field":"x","type":"quantitative","axis":{"values":[10,35,60,85,110],"title":"Level (dB SPL)","labelOverlap":false}},"y":{"field":"y","type":"quantitative","axis":{"values":[1,1.5,2,2.5,3,3.5,4],"format":".1f","title":"ABR PI Latency (ms)","labelOverlap":false}},"color":{"field":"g","type":"nominal","legend":{"title":null,"orient":"none","legendX":6,"legendY":-7,"labelFontSize":11,"labelExpr":"datum.label == 'a' ? 'CX3CR1 WT' : datum.label == 'b' ? 'CX3CR1 KO' : 'hCX3CR1'"}}}},
{"data":{"values":[{"t":"I249/M280"}]},"mark":{"type":"text","fontSize":7.5,"fontWeight":"bold","align":"left","baseline":"middle","color":"#111"},"encoding":{"x":{"datum":58,"type":"quantitative","axis":{"values":[10,35,60,85,110],"title":"Level (dB SPL)","labelOverlap":false}},"y":{"datum":3.69,"type":"quantitative","axis":{"values":[1,1.5,2,2.5,3,3.5,4],"format":".1f","title":"ABR PI Latency (ms)","labelOverlap":false}},"text":{"field":"t"}}},
{"data":{"values":[{"t":"Middle"}]},"mark":{"type":"text","angle":270,"fontSize":22,"fontWeight":"bold","align":"center","baseline":"middle"},"encoding":{"x":{"datum":-45.4,"type":"quantitative","axis":{"values":[10,35,60,85,110],"title":"Level (dB SPL)","labelOverlap":false}},"y":{"datum":2.52,"type":"quantitative","axis":{"values":[1,1.5,2,2.5,3,3.5,4],"format":".1f","title":"ABR PI Latency (ms)","labelOverlap":false}},"text":{"field":"t"}}}
]},
{"width":127,"height":191,
"layer":[
{"data":{"name":"d"},"transform":[{"filter":{"field":"p","equal":"B2"}}],"mark":{"type":"errorband","band":{"color":"#7f93e0","opacity":0.3}},"encoding":{"x":{"field":"x","type":"quantitative","scale":{"domain":[5,110],"nice":false,"zero":false},"axis":{"values":[10,35,60,85,110],"title":"Level (dB SPL)","labelOverlap":false}},"y":{"field":"y","type":"quantitative","scale":{"domain":[1,4],"nice":false,"zero":false},"axis":{"values":[1,1.5,2,2.5,3,3.5,4],"format":".1f","title":"ABR PI Latency (ms)","labelOverlap":false}},"yError":{"field":"e"},"detail":{"field":"g"}}},
{"data":{"name":"d"},"transform":[{"filter":{"field":"p","equal":"B2"}}],"mark":{"type":"line","strokeWidth":1,"opacity":0.8},"encoding":{"x":{"field":"x","type":"quantitative","axis":{"values":[10,35,60,85,110],"title":"Level (dB SPL)","labelOverlap":false}},"y":{"field":"y","type":"quantitative","axis":{"values":[1,1.5,2,2.5,3,3.5,4],"format":".1f","title":"ABR PI Latency (ms)","labelOverlap":false}},"color":{"field":"g","type":"nominal"}}},
{"data":{"name":"d"},"transform":[{"filter":{"field":"p","equal":"B2"}}],"mark":{"type":"point","filled":true,"size":24,"opacity":1},"encoding":{"x":{"field":"x","type":"quantitative","axis":{"values":[10,35,60,85,110],"title":"Level (dB SPL)","labelOverlap":false}},"y":{"field":"y","type":"quantitative","axis":{"values":[1,1.5,2,2.5,3,3.5,4],"format":".1f","title":"ABR PI Latency (ms)","labelOverlap":false}},"color":{"field":"g","type":"nominal","legend":{"title":null,"orient":"none","legendX":6,"legendY":-5,"labelFontSize":11,"labelExpr":"datum.label == 'a' ? 'CX3CR1 WT' : datum.label == 'b' ? 'CX3CR1 KO' : 'hCX3CR1'"}}}},
{"data":{"values":[{"t":"I249/M280"}]},"mark":{"type":"text","fontSize":7.5,"fontWeight":"bold","align":"left","baseline":"middle","color":"#111"},"encoding":{"x":{"datum":58,"type":"quantitative","axis":{"values":[10,35,60,85,110],"title":"Level (dB SPL)","labelOverlap":false}},"y":{"datum":3.66,"type":"quantitative","axis":{"values":[1,1.5,2,2.5,3,3.5,4],"format":".1f","title":"ABR PI Latency (ms)","labelOverlap":false}},"text":{"field":"t"}}}
]},
{"width":127,"height":191,
"layer":[
{"data":{"name":"d"},"transform":[{"filter":{"field":"p","equal":"C2"}}],"mark":{"type":"errorband","band":{"color":"#7f93e0","opacity":0.3}},"encoding":{"x":{"field":"x","type":"quantitative","scale":{"domain":[5,110],"nice":false,"zero":false},"axis":{"values":[10,35,60,85,110],"title":"Level (dB SPL)","labelOverlap":false}},"y":{"field":"y","type":"quantitative","scale":{"domain":[1,4],"nice":false,"zero":false},"axis":{"values":[1,1.5,2,2.5,3,3.5,4],"format":".1f","title":"ABR PI Latency (ms)","labelOverlap":false}},"yError":{"field":"e"},"detail":{"field":"g"}}},
{"data":{"name":"d"},"transform":[{"filter":{"field":"p","equal":"C2"}}],"mark":{"type":"line","strokeWidth":1,"opacity":0.8},"encoding":{"x":{"field":"x","type":"quantitative","axis":{"values":[10,35,60,85,110],"title":"Level (dB SPL)","labelOverlap":false}},"y":{"field":"y","type":"quantitative","axis":{"values":[1,1.5,2,2.5,3,3.5,4],"format":".1f","title":"ABR PI Latency (ms)","labelOverlap":false}},"color":{"field":"g","type":"nominal"}}},
{"data":{"name":"d"},"transform":[{"filter":{"field":"p","equal":"C2"}}],"mark":{"type":"point","filled":true,"size":24,"opacity":1},"encoding":{"x":{"field":"x","type":"quantitative","axis":{"values":[10,35,60,85,110],"title":"Level (dB SPL)","labelOverlap":false}},"y":{"field":"y","type":"quantitative","axis":{"values":[1,1.5,2,2.5,3,3.5,4],"format":".1f","title":"ABR PI Latency (ms)","labelOverlap":false}},"color":{"field":"g","type":"nominal","legend":{"title":null,"orient":"none","legendX":6,"legendY":-5,"labelFontSize":11,"labelExpr":"datum.label == 'a' ? 'CX3CR1 WT' : datum.label == 'b' ? 'CX3CR1 KO' : 'hCX3CR1'"}}}},
{"data":{"values":[{"t":"I249/M280"}]},"mark":{"type":"text","fontSize":7.5,"fontWeight":"bold","align":"left","baseline":"middle","color":"#111"},"encoding":{"x":{"datum":58,"type":"quantitative","axis":{"values":[10,35,60,85,110],"title":"Level (dB SPL)","labelOverlap":false}},"y":{"datum":3.66,"type":"quantitative","axis":{"values":[1,1.5,2,2.5,3,3.5,4],"format":".1f","title":"ABR PI Latency (ms)","labelOverlap":false}},"text":{"field":"t"}}},
{"data":{"values":[{}]},"mark":{"type":"rule","color":"#444","strokeWidth":1},"encoding":{"x":{"datum":90.1,"type":"quantitative","axis":{"values":[10,35,60,85,110],"title":"Level (dB SPL)","labelOverlap":false}},"x2":{"datum":96.4},"y":{"datum":4.05,"type":"quantitative","axis":{"values":[1,1.5,2,2.5,3,3.5,4],"format":".1f","title":"ABR PI Latency (ms)","labelOverlap":false}}}},
{"data":{"values":[{}]},"mark":{"type":"rule","color":"#444","strokeWidth":1},"encoding":{"x":{"datum":96.4,"type":"quantitative","axis":{"values":[10,35,60,85,110],"title":"Level (dB SPL)","labelOverlap":false}},"y":{"datum":4.05,"type":"quantitative","axis":{"values":[1,1.5,2,2.5,3,3.5,4],"format":".1f","title":"ABR PI Latency (ms)","labelOverlap":false}},"y2":{"datum":3.64}}},
{"data":{"values":[{}]},"mark":{"type":"rule","color":"#444","strokeWidth":1},"encoding":{"x":{"datum":90.1,"type":"quantitative","axis":{"values":[10,35,60,85,110],"title":"Level (dB SPL)","labelOverlap":false}},"x2":{"datum":96.4},"y":{"datum":3.64,"type":"quantitative","axis":{"values":[1,1.5,2,2.5,3,3.5,4],"format":".1f","title":"ABR PI Latency (ms)","labelOverlap":false}}}},
{"data":{"values":[{"t":"****"}]},"mark":{"type":"text","fontSize":12,"fontWeight":"bold","align":"center","baseline":"middle"},"encoding":{"x":{"datum":106.3,"type":"quantitative","axis":{"values":[10,35,60,85,110],"title":"Level (dB SPL)","labelOverlap":false}},"y":{"datum":3.84,"type":"quantitative","axis":{"values":[1,1.5,2,2.5,3,3.5,4],"format":".1f","title":"ABR PI Latency (ms)","labelOverlap":false}},"text":{"field":"t"}}}
]}
]},
{"bounds":"flush","spacing":120,"resolve":{"scale":{"color":"independent","x":"independent","y":"independent"}},
"hconcat":[
{"width":127,"height":191,
"layer":[
{"data":{"name":"d"},"transform":[{"filter":{"field":"p","equal":"A3"}}],"mark":{"type":"errorband","band":{"color":"#7f93e0","opacity":0.3}},"encoding":{"x":{"field":"x","type":"quantitative","scale":{"domain":[5,110],"nice":false,"zero":false},"axis":{"values":[10,35,60,85,110],"title":"Level (dB SPL)","labelOverlap":false}},"y":{"field":"y","type":"quantitative","scale":{"domain":[1,4],"nice":false,"zero":false},"axis":{"values":[1,1.5,2,2.5,3,3.5,4],"format":".1f","title":"ABR PI Latency (ms)","labelOverlap":false}},"yError":{"field":"e"},"detail":{"field":"g"}}},
{"data":{"name":"d"},"transform":[{"filter":{"field":"p","equal":"A3"}}],"mark":{"type":"line","strokeWidth":1,"opacity":0.8},"encoding":{"x":{"field":"x","type":"quantitative","axis":{"values":[10,35,60,85,110],"title":"Level (dB SPL)","labelOverlap":false}},"y":{"field":"y","type":"quantitative","axis":{"values":[1,1.5,2,2.5,3,3.5,4],"format":".1f","title":"ABR PI Latency (ms)","labelOverlap":false}},"color":{"field":"g","type":"nominal"}}},
{"data":{"name":"d"},"transform":[{"filter":{"field":"p","equal":"A3"}}],"mark":{"type":"point","filled":true,"size":24,"opacity":1},"encoding":{"x":{"field":"x","type":"quantitative","axis":{"values":[10,35,60,85,110],"title":"Level (dB SPL)","labelOverlap":false}},"y":{"field":"y","type":"quantitative","axis":{"values":[1,1.5,2,2.5,3,3.5,4],"format":".1f","title":"ABR PI Latency (ms)","labelOverlap":false}},"color":{"field":"g","type":"nominal","legend":{"title":null,"orient":"none","legendX":6,"legendY":-5,"labelFontSize":11,"labelExpr":"datum.label == 'a' ? 'CX3CR1 WT' : datum.label == 'b' ? 'CX3CR1 KO' : 'hCX3CR1'"}}}},
{"data":{"values":[{"t":"I249/M280"}]},"mark":{"type":"text","fontSize":7.5,"fontWeight":"bold","align":"left","baseline":"middle","color":"#111"},"encoding":{"x":{"datum":58,"type":"quantitative","axis":{"values":[10,35,60,85,110],"title":"Level (dB SPL)","labelOverlap":false}},"y":{"datum":3.66,"type":"quantitative","axis":{"values":[1,1.5,2,2.5,3,3.5,4],"format":".1f","title":"ABR PI Latency (ms)","labelOverlap":false}},"text":{"field":"t"}}},
{"data":{"values":[{"t":"Base"}]},"mark":{"type":"text","angle":270,"fontSize":22,"fontWeight":"bold","align":"center","baseline":"middle"},"encoding":{"x":{"datum":-45.4,"type":"quantitative","axis":{"values":[10,35,60,85,110],"title":"Level (dB SPL)","labelOverlap":false}},"y":{"datum":2.56,"type":"quantitative","axis":{"values":[1,1.5,2,2.5,3,3.5,4],"format":".1f","title":"ABR PI Latency (ms)","labelOverlap":false}},"text":{"field":"t"}}}
]},
{"width":127,"height":191,
"layer":[
{"data":{"name":"d"},"transform":[{"filter":{"field":"p","equal":"B3"}}],"mark":{"type":"errorband","band":{"color":"#7f93e0","opacity":0.3}},"encoding":{"x":{"field":"x","type":"quantitative","scale":{"domain":[5,110],"nice":false,"zero":false},"axis":{"values":[10,35,60,85,110],"title":"Level (dB SPL)","labelOverlap":false}},"y":{"field":"y","type":"quantitative","scale":{"domain":[1,4],"nice":false,"zero":false},"axis":{"values":[1,1.5,2,2.5,3,3.5,4],"format":".1f","title":"ABR PI Latency (ms)","labelOverlap":false}},"yError":{"field":"e"},"detail":{"field":"g"}}},
{"data":{"name":"d"},"transform":[{"filter":{"field":"p","equal":"B3"}}],"mark":{"type":"line","strokeWidth":1,"opacity":0.8},"encoding":{"x":{"field":"x","type":"quantitative","axis":{"values":[10,35,60,85,110],"title":"Level (dB SPL)","labelOverlap":false}},"y":{"field":"y","type":"quantitative","axis":{"values":[1,1.5,2,2.5,3,3.5,4],"format":".1f","title":"ABR PI Latency (ms)","labelOverlap":false}},"color":{"field":"g","type":"nominal"}}},
{"data":{"name":"d"},"transform":[{"filter":{"field":"p","equal":"B3"}}],"mark":{"type":"point","filled":true,"size":24,"opacity":1},"encoding":{"x":{"field":"x","type":"quantitative","axis":{"values":[10,35,60,85,110],"title":"Level (dB SPL)","labelOverlap":false}},"y":{"field":"y","type":"quantitative","axis":{"values":[1,1.5,2,2.5,3,3.5,4],"format":".1f","title":"ABR PI Latency (ms)","labelOverlap":false}},"color":{"field":"g","type":"nominal","legend":{"title":null,"orient":"none","legendX":6,"legendY":-5,"labelFontSize":11,"labelExpr":"datum.label == 'a' ? 'CX3CR1 WT' : datum.label == 'b' ? 'CX3CR1 KO' : 'hCX3CR1'"}}}},
{"data":{"values":[{"t":"I249/M280"}]},"mark":{"type":"text","fontSize":7.5,"fontWeight":"bold","align":"left","baseline":"middle","color":"#111"},"encoding":{"x":{"datum":58,"type":"quantitative","axis":{"values":[10,35,60,85,110],"title":"Level (dB SPL)","labelOverlap":false}},"y":{"datum":3.66,"type":"quantitative","axis":{"values":[1,1.5,2,2.5,3,3.5,4],"format":".1f","title":"ABR PI Latency (ms)","labelOverlap":false}},"text":{"field":"t"}}},
{"data":{"values":[{}]},"mark":{"type":"rule","color":"#444","strokeWidth":1},"encoding":{"x":{"datum":88.7,"type":"quantitative","axis":{"values":[10,35,60,85,110],"title":"Level (dB SPL)","labelOverlap":false}},"x2":{"datum":96.9},"y":{"datum":4.07,"type":"quantitative","axis":{"values":[1,1.5,2,2.5,3,3.5,4],"format":".1f","title":"ABR PI Latency (ms)","labelOverlap":false}}}},
{"data":{"values":[{}]},"mark":{"type":"rule","color":"#444","strokeWidth":1},"encoding":{"x":{"datum":96.9,"type":"quantitative","axis":{"values":[10,35,60,85,110],"title":"Level (dB SPL)","labelOverlap":false}},"y":{"datum":4.07,"type":"quantitative","axis":{"values":[1,1.5,2,2.5,3,3.5,4],"format":".1f","title":"ABR PI Latency (ms)","labelOverlap":false}},"y2":{"datum":3.66}}},
{"data":{"values":[{}]},"mark":{"type":"rule","color":"#444","strokeWidth":1},"encoding":{"x":{"datum":88.7,"type":"quantitative","axis":{"values":[10,35,60,85,110],"title":"Level (dB SPL)","labelOverlap":false}},"x2":{"datum":96.9},"y":{"datum":3.66,"type":"quantitative","axis":{"values":[1,1.5,2,2.5,3,3.5,4],"format":".1f","title":"ABR PI Latency (ms)","labelOverlap":false}}}},
{"data":{"values":[{"t":"**"}]},"mark":{"type":"text","fontSize":12,"fontWeight":"bold","align":"center","baseline":"middle"},"encoding":{"x":{"datum":101.5,"type":"quantitative","axis":{"values":[10,35,60,85,110],"title":"Level (dB SPL)","labelOverlap":false}},"y":{"datum":3.85,"type":"quantitative","axis":{"values":[1,1.5,2,2.5,3,3.5,4],"format":".1f","title":"ABR PI Latency (ms)","labelOverlap":false}},"text":{"field":"t"}}}
]},
{"width":127,"height":191,
"layer":[
{"data":{"name":"d"},"transform":[{"filter":{"field":"p","equal":"C3"}}],"mark":{"type":"errorband","band":{"color":"#7f93e0","opacity":0.3}},"encoding":{"x":{"field":"x","type":"quantitative","scale":{"domain":[5,110],"nice":false,"zero":false},"axis":{"values":[10,35,60,85,110],"title":"Level (dB SPL)","labelOverlap":false}},"y":{"field":"y","type":"quantitative","scale":{"domain":[1,4],"nice":false,"zero":false},"axis":{"values":[1,1.5,2,2.5,3,3.5,4],"format":".1f","title":"ABR PI Latency (ms)","labelOverlap":false}},"yError":{"field":"e"},"detail":{"field":"g"}}},
{"data":{"name":"d"},"transform":[{"filter":{"field":"p","equal":"C3"}}],"mark":{"type":"line","strokeWidth":1,"opacity":0.8},"encoding":{"x":{"field":"x","type":"quantitative","axis":{"values":[10,35,60,85,110],"title":"Level (dB SPL)","labelOverlap":false}},"y":{"field":"y","type":"quantitative","axis":{"values":[1,1.5,2,2.5,3,3.5,4],"format":".1f","title":"ABR PI Latency (ms)","labelOverlap":false}},"color":{"field":"g","type":"nominal"}}},
{"data":{"name":"d"},"transform":[{"filter":{"field":"p","equal":"C3"}}],"mark":{"type":"point","filled":true,"size":24,"opacity":1},"encoding":{"x":{"field":"x","type":"quantitative","axis":{"values":[10,35,60,85,110],"title":"Level (dB SPL)","labelOverlap":false}},"y":{"field":"y","type":"quantitative","axis":{"values":[1,1.5,2,2.5,3,3.5,4],"format":".1f","title":"ABR PI Latency (ms)","labelOverlap":false}},"color":{"field":"g","type":"nominal","legend":{"title":null,"orient":"none","legendX":6,"legendY":-5,"labelFontSize":11,"labelExpr":"datum.label == 'a' ? 'CX3CR1 WT' : datum.label == 'b' ? 'CX3CR1 KO' : 'hCX3CR1'"}}}},
{"data":{"values":[{"t":"I249/M280"}]},"mark":{"type":"text","fontSize":7.5,"fontWeight":"bold","align":"left","baseline":"middle","color":"#111"},"encoding":{"x":{"datum":58,"type":"quantitative","axis":{"values":[10,35,60,85,110],"title":"Level (dB SPL)","labelOverlap":false}},"y":{"datum":3.66,"type":"quantitative","axis":{"values":[1,1.5,2,2.5,3,3.5,4],"format":".1f","title":"ABR PI Latency (ms)","labelOverlap":false}},"text":{"field":"t"}}},
{"data":{"values":[{}]},"mark":{"type":"rule","color":"#444","strokeWidth":1},"encoding":{"x":{"datum":89.9,"type":"quantitative","axis":{"values":[10,35,60,85,110],"title":"Level (dB SPL)","labelOverlap":false}},"x2":{"datum":96.8},"y":{"datum":4.03,"type":"quantitative","axis":{"values":[1,1.5,2,2.5,3,3.5,4],"format":".1f","title":"ABR PI Latency (ms)","labelOverlap":false}}}},
{"data":{"values":[{}]},"mark":{"type":"rule","color":"#444","strokeWidth":1},"encoding":{"x":{"datum":96.8,"type":"quantitative","axis":{"values":[10,35,60,85,110],"title":"Level (dB SPL)","labelOverlap":false}},"y":{"datum":4.03,"type":"quantitative","axis":{"values":[1,1.5,2,2.5,3,3.5,4],"format":".1f","title":"ABR PI Latency (ms)","labelOverlap":false}},"y2":{"datum":3.6}}},
{"data":{"values":[{}]},"mark":{"type":"rule","color":"#444","strokeWidth":1},"encoding":{"x":{"datum":89.9,"type":"quantitative","axis":{"values":[10,35,60,85,110],"title":"Level (dB SPL)","labelOverlap":false}},"x2":{"datum":96.8},"y":{"datum":3.6,"type":"quantitative","axis":{"values":[1,1.5,2,2.5,3,3.5,4],"format":".1f","title":"ABR PI Latency (ms)","labelOverlap":false}}}},
{"data":{"values":[{"t":"****"}]},"mark":{"type":"text","fontSize":12,"fontWeight":"bold","align":"center","baseline":"middle"},"encoding":{"x":{"datum":105.3,"type":"quantitative","axis":{"values":[10,35,60,85,110],"title":"Level (dB SPL)","labelOverlap":false}},"y":{"datum":3.82,"type":"quantitative","axis":{"values":[1,1.5,2,2.5,3,3.5,4],"format":".1f","title":"ABR PI Latency (ms)","labelOverlap":false}},"text":{"field":"t"}}}
]}
]}
],
"config":{
"font":"Liberation Sans",
"view":{"stroke":null},
"range":{"category":["#22c32e","#ff45f0","#1f3fd6"]},
"axis":{"grid":false,"labelFontSize":12.5,"labelFontWeight":"bold","labelColor":"#111","titleFontSize":12.5,"titleFontWeight":"bold","titleColor":"#111","domainColor":"#333","tickColor":"#333","domainWidth":1.3,"tickWidth":1.3,"tickSize":5,"labelPadding":2,"labelFlush":false,"labelOverlap":false},
"axisX":{"titlePadding":3},
"axisY":{"titlePadding":5,"titleFontSize":12},
"legend":{"symbolType":"M-2,0H2M-0.56,0A0.56,0.56,0,1,1,0.56,0A0.56,0.56,0,1,1,-0.56,0Z","symbolSize":100,"symbolStrokeWidth":1,"labelFontSize":11,"labelFontWeight":"bold","labelColor":"#111","labelOffset":7,"rowPadding":1,"padding":0}
}
}
